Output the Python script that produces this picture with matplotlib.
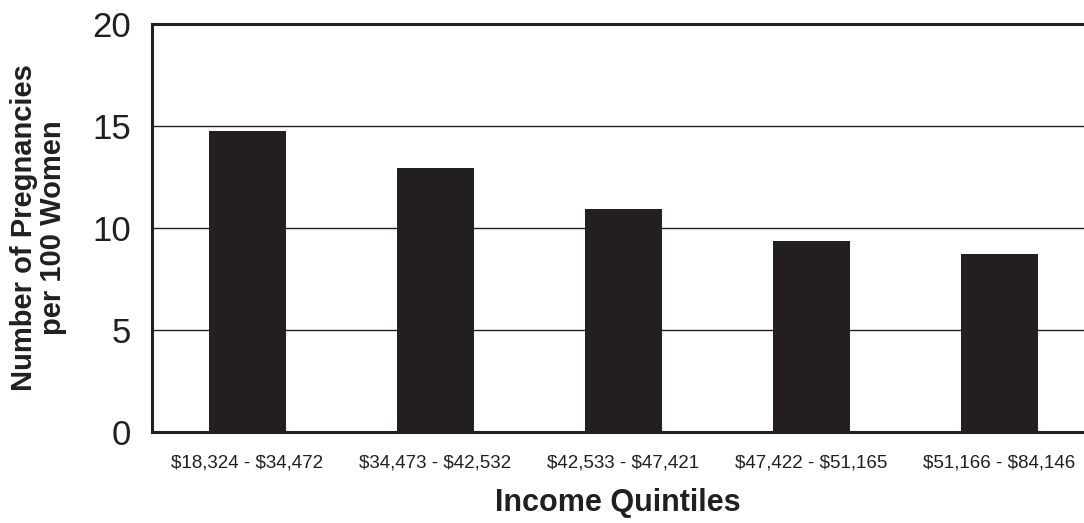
import matplotlib
matplotlib.use("Agg")
import matplotlib.pyplot as plt
from matplotlib import font_manager

quintiles = ["$18,324 - $34,472", "$34,473 - $42,532", "$42,533 - $47,421",
             "$47,422 - $51,165", "$51,166 - $84,146"]
pregnancies = [14.75, 12.95, 10.95, 9.35, 8.75]
y_ticks = [0, 5, 10, 15, 20]

names = {f.name for f in font_manager.fontManager.ttflist}
family = ["Liberation Sans Narrow"] if "Liberation Sans Narrow" in names else ["Liberation Sans"]
plt.rcParams["font.family"] = family + ["DejaVu Sans"]
plt.rcParams["text.parse_math"] = False

fig = plt.figure(figsize=(10.84, 5.23), dpi=100)
ax = fig.add_axes([0.1402, 0.174, 0.8598, 0.780])

x = range(len(quintiles))
ax.bar(x, pregnancies, width=0.41, color="#231f20", zorder=3)

ax.set_ylim(0, 20)
ax.set_xlim(-0.508, 4.45)
ax.set_yticks(y_ticks)
ax.set_yticklabels([str(t) for t in y_ticks], fontsize=25, color="#231f20")
ax.set_xticks(list(x))
ax.set_xticklabels(quintiles, fontsize=13.5, color="#231f20")
ax.tick_params(axis="both", length=0)
ax.tick_params(axis="y", pad=15)
ax.tick_params(axis="x", pad=16)

for v in y_ticks[1:-1]:
    ax.axhline(v, color="#231f20", linewidth=1.0, zorder=1)

for side in ["left", "top", "bottom"]:
    ax.spines[side].set_linewidth(2.2)
    ax.spines[side].set_color("#231f20")
ax.spines["right"].set_visible(False)

ax.set_ylabel("Number of Pregnancies\nper 100 Women", fontsize=21,
              fontweight="bold", color="#231f20", labelpad=18, linespacing=1.05)
ax.set_xlabel("Income Quintiles", fontsize=22, fontweight="bold",
              color="#231f20", labelpad=12)

fig.savefig("out.png", dpi=100)
